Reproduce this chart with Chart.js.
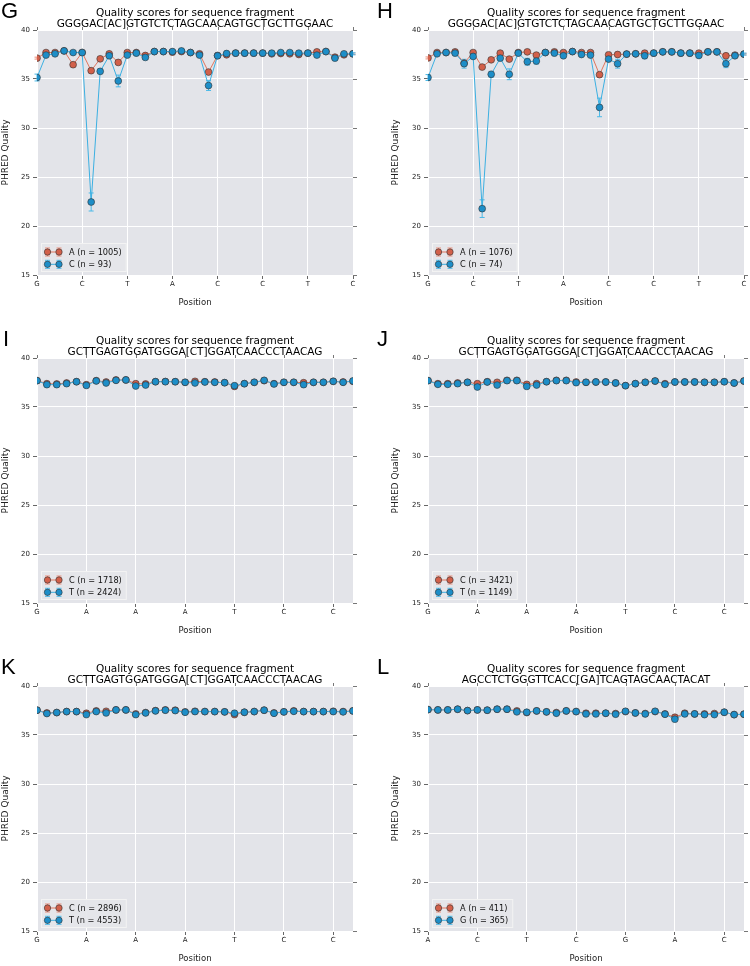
<!DOCTYPE html>
<html>
<head>
<meta charset="utf-8">
<script src="https://cdn.jsdelivr.net/npm/chart.js@4.4.0/dist/chart.umd.min.js"></script>
<style>
  body { margin: 0; background: #fff; width: 750px; height: 966px; position: relative; overflow: hidden; }
  .panel { position: absolute; width: 375px; height: 310px; }
  canvas { display: block; }
</style>
</head>
<body>
<div class="panel" style="left:0;top:0"><canvas id="chartG" width="375" height="310"></canvas></div>
<div class="panel" style="left:375px;top:0"><canvas id="chartH" width="375" height="310"></canvas></div>
<div class="panel" style="left:0;top:328px"><canvas id="chartI" width="375" height="310"></canvas></div>
<div class="panel" style="left:375px;top:328px"><canvas id="chartJ" width="375" height="310"></canvas></div>
<div class="panel" style="left:0;top:656px"><canvas id="chartK" width="375" height="310"></canvas></div>
<div class="panel" style="left:375px;top:656px"><canvas id="chartL" width="375" height="310"></canvas></div>
<script>
// sequence fragments (one entry per position)
const seq_GH = 'GGGGAC[AC]GTGTCTCTAGCAACAGTGCTGCTTGGAAC';
const seq_IJK = 'GCTTGAGTGGATGGGA[CT]GGATCAACCCTAACAG';
const seq_L = 'AGCCTCTGGGTTCACC[GA]TCAGTAGCAACTACAT';
const pos_GH = ['G','G','G','G','A','C','[AC]','G','T','G','T','C','T','C','T','A','G','C','A','A','C','A','G','T','G','C','T','G','C','T','T','G','G','A','A','C'];
const pos_IJK = ['G','C','T','T','G','A','G','T','G','G','A','T','G','G','G','A','[CT]','G','G','A','T','C','A','A','C','C','C','T','A','A','C','A','G'];
const pos_L = ['A','G','C','C','T','C','T','G','G','G','T','T','C','A','C','C','[GA]','T','C','A','G','T','A','G','C','A','A','C','T','A','C','A','T'];

// G
const G_A = [37.13,37.7,37.7,37.87,36.46,37.7,35.85,37.06,37.57,36.69,37.7,37.7,37.4,37.8,37.8,37.74,37.8,37.7,37.57,35.71,37.4,37.47,37.64,37.64,37.64,37.64,37.57,37.6,37.57,37.5,37.64,37.77,37.8,37.23,37.47,37.57];
const G_A_err = [0.1,0.08,0.08,0.08,0.15,0.08,0.12,0.1,0.08,0.15,0.08,0.08,0.08,0.08,0.08,0.08,0.08,0.08,0.08,0.2,0.08,0.08,0.08,0.08,0.08,0.08,0.08,0.08,0.08,0.08,0.08,0.08,0.08,0.1,0.08,0.08];
const G_C = [35.15,37.44,37.57,37.87,37.7,37.7,22.45,35.78,37.37,34.8,37.44,37.64,37.2,37.8,37.8,37.8,37.87,37.7,37.44,34.33,37.37,37.6,37.64,37.64,37.64,37.64,37.64,37.7,37.7,37.64,37.64,37.44,37.8,37.13,37.57,37.57];
const G_C_err = [0.35,0.1,0.1,0.05,0.1,0.1,0.92,0.25,0.15,0.6,0.1,0.1,0.15,0.05,0.05,0.05,0.05,0.1,0.15,0.5,0.1,0.1,0.1,0.1,0.1,0.1,0.1,0.1,0.1,0.1,0.1,0.2,0.1,0.2,0.1,0.1];
// H
const H_A = [37.15,37.7,37.7,37.77,36.63,37.7,36.22,36.96,37.64,37.03,37.7,37.77,37.44,37.7,37.77,37.7,37.8,37.7,37.7,35.44,37.47,37.5,37.54,37.57,37.64,37.64,37.77,37.77,37.64,37.64,37.64,37.77,37.77,37.37,37.44,37.54];
const H_A_err = [0.1,0.08,0.08,0.08,0.2,0.08,0.12,0.1,0.08,0.1,0.08,0.08,0.08,0.08,0.08,0.08,0.08,0.08,0.08,0.2,0.08,0.08,0.08,0.08,0.08,0.08,0.08,0.08,0.08,0.08,0.08,0.08,0.08,0.1,0.08,0.08];
const H_C = [35.15,37.57,37.7,37.64,36.56,37.3,21.77,35.48,37.13,35.48,37.64,36.76,36.83,37.7,37.64,37.37,37.8,37.5,37.44,32.1,37.03,36.56,37.54,37.57,37.37,37.64,37.77,37.77,37.64,37.64,37.4,37.77,37.77,36.56,37.37,37.54];
const H_C_err = [0.3,0.1,0.1,0.1,0.45,0.2,0.9,0.3,0.2,0.55,0.1,0.35,0.3,0.1,0.1,0.15,0.1,0.1,0.1,0.95,0.2,0.45,0.1,0.1,0.3,0.1,0.1,0.1,0.1,0.1,0.2,0.1,0.1,0.4,0.15,0.1];
// I
const I_C = [37.69,37.38,37.35,37.45,37.58,37.28,37.69,37.55,37.76,37.76,37.38,37.35,37.58,37.6,37.58,37.52,37.62,37.58,37.55,37.48,37.1,37.38,37.52,37.69,37.38,37.52,37.52,37.48,37.52,37.52,37.62,37.55,37.62];
const I_T = [37.69,37.28,37.28,37.38,37.58,37.2,37.66,37.45,37.72,37.76,37.14,37.24,37.58,37.58,37.58,37.52,37.45,37.55,37.52,37.48,37.18,37.38,37.52,37.72,37.35,37.52,37.52,37.28,37.52,37.52,37.62,37.52,37.66];
// J
const J_C = [37.69,37.38,37.38,37.45,37.52,37.38,37.58,37.52,37.72,37.72,37.31,37.38,37.58,37.72,37.72,37.55,37.52,37.55,37.55,37.45,37.18,37.38,37.52,37.65,37.38,37.55,37.55,37.55,37.52,37.52,37.58,37.45,37.65];
const J_T = [37.69,37.31,37.31,37.38,37.52,37.04,37.55,37.24,37.69,37.69,37.1,37.24,37.58,37.69,37.69,37.48,37.52,37.55,37.55,37.45,37.18,37.38,37.52,37.65,37.31,37.55,37.55,37.55,37.52,37.52,37.58,37.45,37.65];
// K
const K_C = [37.53,37.25,37.29,37.39,37.39,37.22,37.46,37.42,37.56,37.56,37.15,37.29,37.49,37.56,37.53,37.36,37.42,37.39,37.39,37.36,37.08,37.32,37.39,37.53,37.25,37.36,37.46,37.39,37.39,37.39,37.42,37.39,37.46];
const K_T = [37.53,37.19,37.29,37.39,37.39,37.08,37.39,37.25,37.56,37.56,37.08,37.25,37.46,37.53,37.49,37.32,37.39,37.39,37.39,37.36,37.22,37.32,37.39,37.53,37.22,37.36,37.42,37.39,37.39,37.39,37.39,37.36,37.46];
// L
const L_A = [37.59,37.56,37.56,37.63,37.49,37.56,37.53,37.63,37.63,37.46,37.29,37.46,37.36,37.29,37.46,37.39,37.22,37.22,37.22,37.19,37.39,37.25,37.19,37.39,37.15,36.81,37.22,37.15,37.15,37.19,37.32,37.08,37.12];
const L_G = [37.59,37.56,37.56,37.63,37.49,37.56,37.53,37.63,37.63,37.36,37.32,37.46,37.36,37.22,37.46,37.39,37.15,37.15,37.22,37.12,37.42,37.25,37.15,37.42,37.12,36.61,37.15,37.15,37.08,37.08,37.32,37.08,37.12];

const PLOT_BG = '#e3e4e9';
const LINE_COL = ['#e0765e', '#3cb0e2'];
const POINT_COL = ['#d2604a', '#1d8ec8'];
const ERR_COL = ['#ea8f7c', '#4ab9e8'];
const FONT = 'DejaVu Sans';

function makeChart(p) {
  const n = p.positions.length;
  const panelPlugin = {
    id: 'panel' + p.letter,
    beforeDraw(chart) {
      const {ctx, chartArea: a} = chart;
      ctx.save();
      ctx.fillStyle = PLOT_BG;
      ctx.fillRect(a.left, a.top, a.right - a.left, a.bottom - a.top);
      ctx.restore();
    },
    beforeDatasetsDraw(chart) {
      const {ctx} = chart;
      const xs = chart.scales.x, ys = chart.scales.y;
      ctx.save();
      ctx.lineWidth = 1;
      chart.data.datasets.forEach((ds, k) => {
        if (!ds.errs) return;
        ctx.strokeStyle = ERR_COL[k];
        ds.errs.forEach((e, i) => {
          const x = xs.getPixelForValue(i);
          const y1 = ys.getPixelForValue(ds.data[i].y + e);
          const y2 = ys.getPixelForValue(ds.data[i].y - e);
          ctx.beginPath();
          ctx.moveTo(x, y1); ctx.lineTo(x, y2);
          ctx.moveTo(x - 2.5, y1); ctx.lineTo(x + 2.5, y1);
          ctx.moveTo(x - 2.5, y2); ctx.lineTo(x + 2.5, y2);
          ctx.stroke();
        });
      });
      ctx.restore();
    },
    afterDraw(chart) {
      const {ctx, chartArea: a} = chart;
      const xs = chart.scales.x, ys = chart.scales.y;
      ctx.save();
      // mirrored tick marks on top and right
      ctx.strokeStyle = '#777';
      ctx.lineWidth = 1;
      ctx.beginPath();
      ys.ticks.forEach(t => {
        const y = Math.round(ys.getPixelForValue(t.value)) + 0.5;
        ctx.moveTo(a.right, y); ctx.lineTo(a.right + 4, y);
      });
      xs.ticks.forEach(t => {
        const x = Math.round(xs.getPixelForValue(t.value)) + 0.5;
        ctx.moveTo(x, a.top); ctx.lineTo(x, a.top - 3);
      });
      ctx.stroke();
      // panel letter
      ctx.fillStyle = '#000';
      ctx.font = '22px "Liberation Sans"';
      ctx.textBaseline = 'alphabetic';
      ctx.textAlign = 'left';
      ctx.fillText(p.letter, p.letterX, a.top - 12);
      // title
      ctx.textAlign = 'center';
      ctx.font = '10.5px "' + FONT + '"';
      const cx = (a.left + a.right) / 2;
      ctx.fillText('Quality scores for sequence fragment', cx, a.top - 14.5);
      ctx.fillText(p.seq, cx, a.top - 3);
      // legend
      ctx.font = '8.2px "' + FONT + '"';
      const tw = Math.max(...chart.data.datasets.map(ds => ctx.measureText(ds.label).width));
      const bx = a.left + 4, bh = 29, by = a.bottom - 3 - bh, bw = tw + 33;
      ctx.fillStyle = 'rgba(228,229,234,0.9)';
      ctx.fillRect(bx, by, bw, bh);
      ctx.strokeStyle = '#f3f3f3';
      ctx.strokeRect(bx + 0.5, by + 0.5, bw - 1, bh - 1);
      chart.data.datasets.forEach((ds, k) => {
        const y = by + 9 + k * 12.3;
        const x1 = bx + 6.5, x2 = bx + 18;
        ctx.strokeStyle = ERR_COL[k];
        ctx.beginPath();
        [x1, x2].forEach(x => {
          ctx.moveTo(x, y - 4); ctx.lineTo(x, y + 4);
          ctx.moveTo(x - 2.5, y - 4); ctx.lineTo(x + 2.5, y - 4);
          ctx.moveTo(x - 2.5, y + 4); ctx.lineTo(x + 2.5, y + 4);
        });
        ctx.stroke();
        ctx.strokeStyle = LINE_COL[k];
        ctx.beginPath(); ctx.moveTo(x1, y); ctx.lineTo(x2, y); ctx.stroke();
        [x1, x2].forEach(x => {
          ctx.beginPath(); ctx.arc(x, y, 3.2, 0, Math.PI * 2);
          ctx.fillStyle = POINT_COL[k]; ctx.fill();
          ctx.lineWidth = 0.6; ctx.strokeStyle = '#333'; ctx.stroke();
          ctx.lineWidth = 1;
        });
        ctx.fillStyle = '#111';
        ctx.textAlign = 'left';
        ctx.textBaseline = 'middle';
        ctx.fillText(ds.label, bx + 28, y + 0.5);
      });
      ctx.restore();
    }
  };

  return new Chart(document.getElementById(p.id), {
    type: 'line',
    data: {
      datasets: p.series.map((s, k) => ({
        label: s.label,
        data: s.values.map((v, i) => ({x: i, y: v})),
        errs: s.errs,
        order: 1 - k,   // second series drawn on top
        borderColor: LINE_COL[k],
        backgroundColor: POINT_COL[k],
        pointBackgroundColor: POINT_COL[k],
        pointBorderColor: '#333',
        pointBorderWidth: 0.6,
        pointRadius: 3.4,
        borderWidth: 1,
        tension: 0
      }))
    },
    options: {
      responsive: false,
      animation: false,
      layout: {padding: {left: p.padLeft, right: p.padRight, top: 30, bottom: 2}},
      plugins: {legend: {display: false}, title: {display: false}, tooltip: {enabled: false}},
      scales: {
        x: {
          type: 'linear', min: 0, max: n - 1,
          afterBuildTicks: s => { s.ticks = s.ticks.filter(t => t.value % 5 === 0); },
          afterFit: s => { s.height = 33; },
          ticks: {stepSize: 5, autoSkip: false, maxRotation: 0, padding: 1, color: '#222',
                  font: {family: FONT, size: 7}, callback: v => p.positions[v]},
          grid: {color: '#ffffff', lineWidth: 1, tickLength: 4, tickColor: '#666'},
          border: {display: false},
          title: {display: true, text: 'Position', color: '#222', padding: 0, font: {family: FONT, size: 8.5}}
        },
        y: {
          min: 15, max: 40,
          afterFit: s => { s.width = p.yWidth; },
          ticks: {stepSize: 5, padding: 3, color: '#222', font: {family: FONT, size: 7}},
          grid: {color: '#ffffff', lineWidth: 1, tickLength: 4, tickColor: '#666'},
          border: {display: false},
          title: {display: true, text: 'PHRED Quality', color: '#222', padding: 0, font: {family: FONT, size: 9}}
        }
      }
    },
    plugins: [panelPlugin]
  });
}

const leftGeom = {padLeft: 0, yWidth: 37, padRight: 22};
const rightGeom = {padLeft: 15, yWidth: 38, padRight: 6};

makeChart(Object.assign({id: 'chartG', letter: 'G', letterX: 1, seq: seq_GH, positions: pos_GH,
  series: [{label: 'A (n = 1005)', values: G_A, errs: G_A_err}, {label: 'C (n = 93)', values: G_C, errs: G_C_err}]}, leftGeom));
makeChart(Object.assign({id: 'chartH', letter: 'H', letterX: 2, seq: seq_GH, positions: pos_GH,
  series: [{label: 'A (n = 1076)', values: H_A, errs: H_A_err}, {label: 'C (n = 74)', values: H_C, errs: H_C_err}]}, rightGeom));
makeChart(Object.assign({id: 'chartI', letter: 'I', letterX: 3, seq: seq_IJK, positions: pos_IJK,
  series: [{label: 'C (n = 1718)', values: I_C}, {label: 'T (n = 2424)', values: I_T}]}, leftGeom));
makeChart(Object.assign({id: 'chartJ', letter: 'J', letterX: 2, seq: seq_IJK, positions: pos_IJK,
  series: [{label: 'C (n = 3421)', values: J_C}, {label: 'T (n = 1149)', values: J_T}]}, rightGeom));
makeChart(Object.assign({id: 'chartK', letter: 'K', letterX: 1, seq: seq_IJK, positions: pos_IJK,
  series: [{label: 'C (n = 2896)', values: K_C}, {label: 'T (n = 4553)', values: K_T}]}, leftGeom));
makeChart(Object.assign({id: 'chartL', letter: 'L', letterX: 2, seq: seq_L, positions: pos_L,
  series: [{label: 'A (n = 411)', values: L_A}, {label: 'G (n = 365)', values: L_G}]}, rightGeom));
</script>
</body>
</html>
